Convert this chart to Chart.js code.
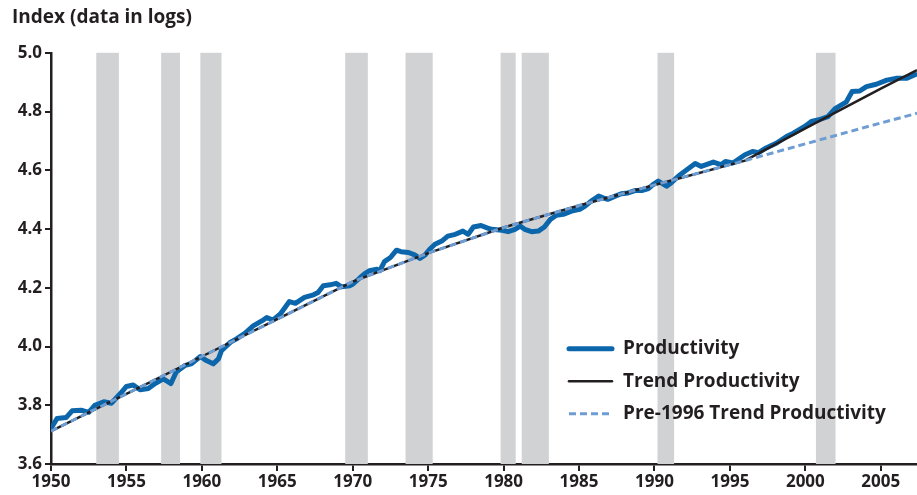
<!DOCTYPE html>
<html lang="en">
<head>
  <meta charset="UTF-8">
  <title>Productivity and Trend Productivity</title>
  <script src="https://cdn.jsdelivr.net/npm/chart.js"></script>
  <style>
    body {
      margin: 0;
      background: #ffffff;
    }

    .wrap {
      position: relative;
      width: 917px;
      height: 495px;
    }
  </style>
</head>
<body>

  <div class="wrap">
    <canvas id="prodChart"></canvas>
  </div>

  <script>
    // recession bands (start / end, in years)
    const recStart = [1953.0, 1957.3, 1959.9, 1969.5, 1973.5, 1979.8, 1981.2, 1990.2, 2000.7];
    const recEnd   = [1954.5, 1958.55, 1961.3, 1971.0, 1975.3, 1980.8, 1983.0, 1991.3, 2002.0];

    // productivity (log index)
    const prodYears = [
      1950.0, 1950.4, 1951.0, 1951.4, 1952.0, 1952.5, 1952.9, 1953.5, 1954.0, 1954.6,
      1955.0, 1955.45, 1955.9, 1956.45, 1956.9, 1957.45, 1957.95, 1958.3, 1958.9, 1959.3,
      1959.9, 1960.3, 1960.75, 1961.1, 1961.3, 1961.9, 1962.3, 1962.85, 1963.4, 1964.0,
      1964.3, 1964.7, 1965.2, 1965.8, 1966.2, 1966.8, 1967.4, 1967.7, 1968.05, 1968.5,
      1968.9, 1969.25, 1969.8, 1970.0, 1970.5, 1970.8, 1971.1, 1971.6, 1971.8, 1972.1,
      1972.5, 1972.9, 1973.2, 1973.7, 1974.1, 1974.45, 1974.8, 1975.1, 1975.45, 1975.9,
      1976.3, 1976.8, 1977.3, 1977.65, 1978.0, 1978.5, 1978.9, 1979.2, 1979.9, 1980.3,
      1980.75, 1981.1, 1981.4, 1981.85, 1982.3, 1982.7, 1983.1, 1983.5, 1983.95, 1984.5,
      1985.05, 1985.4, 1985.8, 1986.3, 1986.6, 1986.9, 1987.4, 1987.8, 1988.25, 1988.7,
      1989.15, 1989.6, 1989.9, 1990.25, 1990.8, 1991.1, 1991.7, 1992.7, 1993.1, 1993.9,
      1994.4, 1994.7, 1995.2, 1996.0, 1996.5, 1996.9, 1997.4, 1998.1, 1998.75, 1999.2,
      1999.96, 2000.4, 2000.9, 2001.5, 2002.0, 2002.7, 2003.1, 2003.6, 2004.05, 2004.7,
      2005.4, 2006.0, 2006.7, 2007.3
    ];
    const prodValues = [
      3.721, 3.755, 3.758, 3.781, 3.783, 3.776, 3.800, 3.812, 3.807, 3.840,
      3.864, 3.869, 3.853, 3.857, 3.874, 3.890, 3.874, 3.913, 3.936, 3.941,
      3.966, 3.952, 3.941, 3.958, 3.986, 4.015, 4.026, 4.045, 4.070, 4.088,
      4.099, 4.090, 4.111, 4.153, 4.147, 4.167, 4.176, 4.184, 4.207, 4.210,
      4.215, 4.203, 4.207, 4.212, 4.235, 4.248, 4.258, 4.263, 4.258, 4.289,
      4.303, 4.328, 4.323, 4.320, 4.312, 4.300, 4.312, 4.331, 4.348, 4.359,
      4.376, 4.382, 4.393, 4.382, 4.407, 4.412, 4.404, 4.399, 4.396, 4.391,
      4.399, 4.410, 4.399, 4.391, 4.393, 4.407, 4.433, 4.447, 4.450, 4.461,
      4.467, 4.478, 4.495, 4.512, 4.506, 4.501, 4.512, 4.520, 4.523, 4.531,
      4.531, 4.538, 4.551, 4.563, 4.546, 4.557, 4.585, 4.623, 4.613, 4.628,
      4.619, 4.630, 4.625, 4.653, 4.664, 4.660, 4.676, 4.693, 4.715, 4.726,
      4.749, 4.766, 4.772, 4.783, 4.811, 4.832, 4.868, 4.870, 4.885, 4.893,
      4.907, 4.913, 4.913, 4.926
    ];

    // trend lines
    const trendYears  = [1950, 1955, 1960, 1965, 1970, 1975, 1980, 1985, 1990, 1996, 2000, 2005, 2007.4];
    const trendValues = [3.712, 3.839, 3.966, 4.093, 4.221, 4.318, 4.405, 4.480, 4.550, 4.633, 4.743, 4.878, 4.941];
    const pre96Values = [3.712, 3.839, 3.966, 4.093, 4.221, 4.318, 4.405, 4.480, 4.550, 4.633, 4.690, 4.761, 4.794];

    const xTicks = [1950, 1955, 1960, 1965, 1970, 1975, 1980, 1985, 1990, 1995, 2000, 2005];
    const yTicks = [3.6, 3.8, 4.0, 4.2, 4.4, 4.6, 4.8, 5.0];

    const ink = '#231f20';
    const fontFamily = '"Open Sans", Lato, sans-serif';

    const toPoints = (xs, ys) => xs.map((x, i) => ({ x: x, y: ys[i] }));

    // grey recession bands behind the lines
    const recessionBands = {
      id: 'recessionBands',
      beforeDatasetsDraw(chart) {
        const { ctx, chartArea, scales } = chart;
        ctx.save();
        ctx.fillStyle = '#d1d2d4';
        recStart.forEach((s, i) => {
          const x0 = scales.x.getPixelForValue(s);
          const x1 = scales.x.getPixelForValue(recEnd[i]);
          ctx.fillRect(x0, chartArea.top, x1 - x0, chartArea.bottom - chartArea.top);
        });
        ctx.restore();
      }
    };

    // legend inside the plot, lower right
    const insideLegend = {
      id: 'insideLegend',
      afterDraw(chart) {
        const { ctx, chartArea } = chart;
        const left = chartArea.left + 518;
        const top = chartArea.top + 296;
        ctx.save();
        ctx.font = 'bold 19px ' + fontFamily;
        ctx.textBaseline = 'middle';
        chart.data.datasets.forEach((ds, i) => {
          const y = top + i * 32.5;
          ctx.beginPath();
          ctx.strokeStyle = ds.borderColor;
          ctx.lineWidth = ds.borderWidth;
          ctx.lineCap = ds.borderDash ? 'butt' : 'round';
          ctx.setLineDash(ds.borderDash || []);
          ctx.moveTo(left, y);
          ctx.lineTo(left + 43, y);
          ctx.stroke();
          ctx.setLineDash([]);
          ctx.fillStyle = ink;
          ctx.fillText(ds.label, left + 54, y);
        });
        ctx.restore();
      }
    };

    new Chart(document.getElementById('prodChart'), {
      type: 'line',
      data: {
        datasets: [
          {
            label: 'Productivity',
            data: toPoints(prodYears, prodValues),
            borderColor: '#0b66ab',
            borderWidth: 5,
            pointRadius: 0,
            borderCapStyle: 'round',
            borderJoinStyle: 'round',
            order: 3
          },
          {
            label: 'Trend Productivity',
            data: toPoints(trendYears, trendValues),
            borderColor: ink,
            borderWidth: 2.5,
            pointRadius: 0,
            order: 2
          },
          {
            label: 'Pre-1996 Trend Productivity',
            data: toPoints(trendYears, pre96Values),
            borderColor: '#6d9dd3',
            borderWidth: 3,
            borderDash: [7, 4],
            pointRadius: 0,
            order: 1
          }
        ]
      },
      options: {
        responsive: true,
        maintainAspectRatio: false,
        animation: false,
        layout: {
          padding: { left: 12, right: 0, top: 0, bottom: 0 }
        },
        plugins: {
          legend: { display: false },
          tooltip: { enabled: false },
          title: {
            display: true,
            text: 'Index (data in logs)',
            align: 'start',
            color: ink,
            font: { family: fontFamily, size: 19, weight: 'bold' },
            padding: { top: 6, bottom: 24 }
          }
        },
        scales: {
          x: {
            type: 'linear',
            min: 1950,
            max: 2007.4,
            afterBuildTicks: (scale) => {
              scale.ticks = xTicks.map(v => ({ value: v }));
            },
            afterFit: (scale) => {
              scale.height = 31;
            },
            ticks: {
              color: ink,
              font: { family: fontFamily, size: 17, weight: 'bold' },
              padding: 1,
              maxRotation: 0,
              autoSkip: false,
              callback: (v) => String(v)
            },
            grid: {
              drawOnChartArea: false,
              drawTicks: true,
              tickLength: 7,
              color: ink,
              lineWidth: 2
            },
            border: { color: ink, width: 2.5 }
          },
          y: {
            min: 3.6,
            max: 5.0,
            afterBuildTicks: (scale) => {
              scale.ticks = yTicks.map(v => ({ value: v }));
            },
            afterFit: (scale) => {
              scale.width = 39;
            },
            ticks: {
              color: ink,
              font: { family: fontFamily, size: 17, weight: 'bold' },
              padding: 3,
              callback: (v) => Number(v).toFixed(1)
            },
            grid: {
              drawOnChartArea: false,
              drawTicks: true,
              tickLength: 6,
              color: ink,
              lineWidth: 2
            },
            border: { color: ink, width: 2.5 }
          }
        }
      },
      plugins: [recessionBands, insideLegend]
    });
  </script>
</body>
</html>
